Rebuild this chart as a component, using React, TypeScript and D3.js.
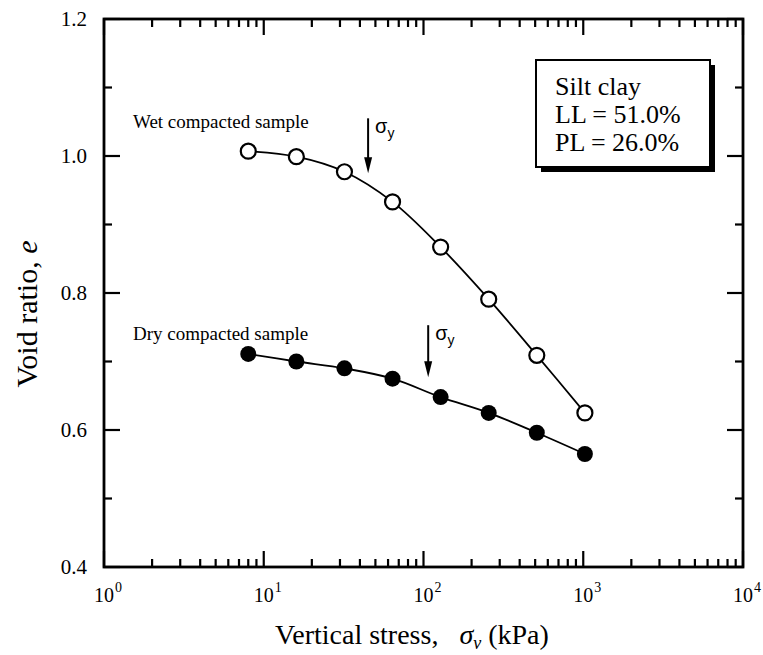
import React from "react";
import * as d3 from "d3";

// ---- data ----
const stress = [8, 16, 32, 64, 128, 256, 512, 1024]; // kPa
const wetVoid = [1.007, 0.999, 0.977, 0.933, 0.867, 0.791, 0.709, 0.625];
const dryVoid = [0.711, 0.7, 0.69, 0.675, 0.648, 0.625, 0.596, 0.565];
const yTicks = [0.4, 0.6, 0.8, 1.0, 1.2];
const yMinorTicks = [0.5, 0.7, 0.9, 1.1];
const xDecades = [0, 1, 2, 3, 4];
// yield-stress arrows: stress position, top and tip void ratio
const sigmaArrows = [
  { s: 45, top: 1.055, tip: 0.975 },
  { s: 107, top: 0.753, tip: 0.677 },
];

const W = 763;
const H = 655;
const FONT = "'Liberation Serif', 'Times New Roman', serif";

export default function App() {
  const x = d3.scaleLog().domain([1, 1e4]).range([104, 743]);
  const y = d3.scaleLinear().domain([0.4, 1.2]).range([567, 19]);
  const [x0, x1] = x.range();
  const [y0, y1] = y.range();

  const wetPts = stress.map((s, i) => [s, wetVoid[i]] as [number, number]);
  const dryPts = stress.map((s, i) => [s, dryVoid[i]] as [number, number]);
  const line = d3
    .line<[number, number]>()
    .x((d) => x(d[0]))
    .y((d) => y(d[1]))
    .curve(d3.curveCatmullRom.alpha(0.5));

  const majorLen = 16;
  const minorLen = 8;

  const xMinor: number[] = [];
  for (let dcd = 0; dcd < 4; dcd++) {
    for (let m = 2; m <= 9; m++) xMinor.push(m * Math.pow(10, dcd));
  }

  const tickStyle = { stroke: "#000", strokeWidth: 2.2 };

  return (
    <svg
      width={W}
      height={H}
      style={{ position: "absolute", left: 0, top: 0, background: "#fff" }}
      fontFamily={FONT}
    >
      <rect x={0} y={0} width={W} height={H} fill="#fff" />
      {/* frame */}
      <rect
        x={x0}
        y={y1}
        width={x1 - x0}
        height={y0 - y1}
        fill="none"
        stroke="#000"
        strokeWidth={2.8}
      />
      {/* y ticks (left & right) */}
      {yTicks.map((t) => (
        <g key={"yt" + t}>
          <line x1={x0} x2={x0 + majorLen} y1={y(t)} y2={y(t)} {...tickStyle} />
          <line x1={x1} x2={x1 - majorLen} y1={y(t)} y2={y(t)} {...tickStyle} />
          <text
            x={x0 - 17}
            y={y(t)}
            dy="0.35em"
            textAnchor="end"
            fontSize={21}
          >
            {t.toFixed(1)}
          </text>
        </g>
      ))}
      {yMinorTicks.map((t) => (
        <g key={"ym" + t}>
          <line x1={x0} x2={x0 + minorLen} y1={y(t)} y2={y(t)} {...tickStyle} />
          <line x1={x1} x2={x1 - minorLen} y1={y(t)} y2={y(t)} {...tickStyle} />
        </g>
      ))}
      {/* x ticks (bottom & top) */}
      {xDecades.map((p) => {
        const v = Math.pow(10, p);
        const xp = x(v);
        return (
          <g key={"xt" + p}>
            <line x1={xp} x2={xp} y1={y0} y2={y0 - majorLen} {...tickStyle} />
            <line x1={xp} x2={xp} y1={y1} y2={y1 + majorLen} {...tickStyle} />
            <text x={xp} y={602} textAnchor="middle" fontSize={20}>
              10
            </text>
            <text x={xp + 11} y={592} textAnchor="start" fontSize={14}>
              {p}
            </text>
          </g>
        );
      })}
      {xMinor.map((v) => (
        <g key={"xm" + v}>
          <line x1={x(v)} x2={x(v)} y1={y0} y2={y0 - minorLen} {...tickStyle} />
          <line x1={x(v)} x2={x(v)} y1={y1} y2={y1 + minorLen} {...tickStyle} />
        </g>
      ))}

      {/* axis titles */}
      <text x={412} y={644} textAnchor="middle" fontSize={28}>
        Vertical stress,{"\u00A0\u00A0\u00A0"}
        <tspan fontStyle="italic">σ</tspan>
        <tspan fontStyle="italic" fontSize={18} dy={5}>
          v
        </tspan>
        <tspan dy={-5}> (kPa)</tspan>
      </text>
      <text
        transform={`translate(37, 314) rotate(-90)`}
        textAnchor="middle"
        fontSize={30}
      >
        Void ratio, <tspan fontStyle="italic">e</tspan>
      </text>

      {/* curves */}
      <path d={line(wetPts) || ""} fill="none" stroke="#000" strokeWidth={1.8} />
      <path d={line(dryPts) || ""} fill="none" stroke="#000" strokeWidth={1.8} />
      {wetPts.map((d, i) => (
        <circle
          key={"w" + i}
          cx={x(d[0])}
          cy={y(d[1])}
          r={7.5}
          fill="#fff"
          stroke="#000"
          strokeWidth={2.2}
        />
      ))}
      {dryPts.map((d, i) => (
        <circle key={"d" + i} cx={x(d[0])} cy={y(d[1])} r={8} fill="#000" />
      ))}

      {/* sample labels */}
      <text x={133} y={128} fontSize={19}>
        Wet compacted sample
      </text>
      <text x={133} y={340} fontSize={19}>
        Dry compacted sample
      </text>

      {/* yield stress arrows */}
      {sigmaArrows.map((a, i) => {
        const ax = x(a.s);
        const yt = y(a.top);
        const yp = y(a.tip);
        return (
          <g key={"a" + i}>
            <line x1={ax} x2={ax} y1={yt} y2={yp - 12} stroke="#000" strokeWidth={2} />
            <path
              d={`M${ax - 4},${yp - 16} L${ax + 4},${yp - 16} L${ax},${yp} Z`}
              fill="#000"
            />
            <text
              x={ax + 7}
              y={yt + 15}
              fontSize={20}
              fontFamily="'Liberation Sans', 'DejaVu Sans', sans-serif"
            >
              σ
              <tspan fontSize={14} dy={5}>
                y
              </tspan>
            </text>
          </g>
        );
      })}

      {/* soil info box */}
      <rect x={541} y={65} width={174} height={107} fill="#000" />
      <rect
        x={536}
        y={60}
        width={174}
        height={107}
        fill="#fff"
        stroke="#000"
        strokeWidth={2}
      />
      <text x={555} y={95} fontSize={26}>
        Silt clay
      </text>
      <text x={555} y={123} fontSize={26}>
        LL = 51.0%
      </text>
      <text x={555} y={151} fontSize={26}>
        PL = 26.0%
      </text>
    </svg>
  );
}
